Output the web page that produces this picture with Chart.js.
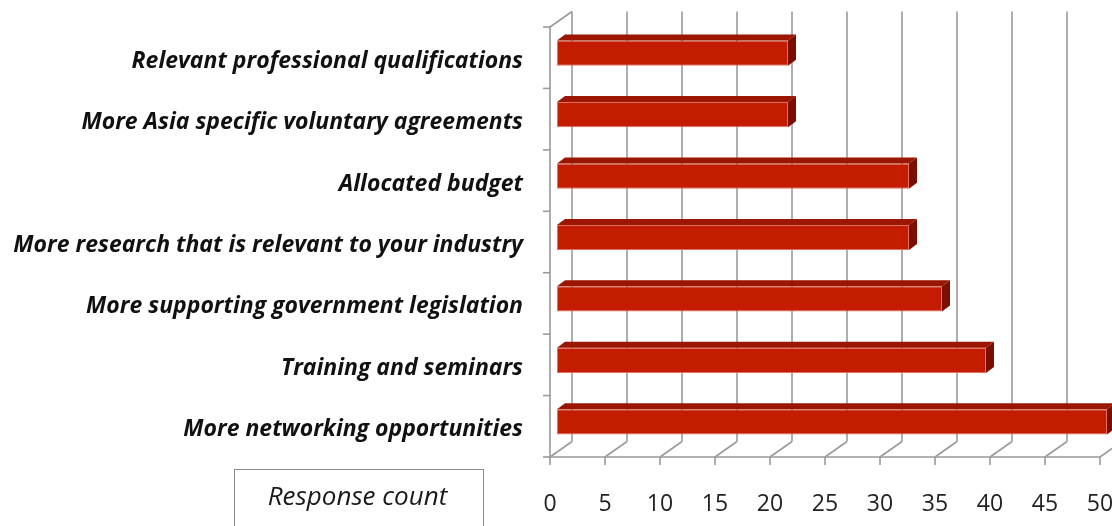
<!DOCTYPE html>
<html>
<head>
<meta charset="utf-8">
<title>Response count</title>
<script src="https://cdn.jsdelivr.net/npm/chart.js@4.4.1/dist/chart.umd.min.js"></script>
<style>
  html, body { margin: 0; padding: 0; background: #ffffff; }
  #wrap { width: 1112px; height: 526px; position: relative; }
</style>
</head>
<body>
<div id="wrap"><canvas id="chart" width="1112" height="526"></canvas></div>
<script>
// Categories, listed top to bottom
const categories = [
  'Relevant professional qualifications',
  'More Asia specific voluntary agreements',
  'Allocated budget',
  'More research that is relevant to your industry',
  'More supporting government legislation',
  'Training and seminars',
  'More networking opportunities'
];

// Number of responses per category
const responseCounts = [21, 21, 32, 32, 35, 39, 50];

// Value axis ticks
const tickValues = [0, 5, 10, 15, 20, 25, 30, 35, 40, 45, 50];

const axisTitle = 'Response count';

// 3D box geometry (pixel offsets relative to the bar front face)
const FRONT = { dx: -7, dy: 4.5 };   // floor / left wall front edge
const BACK = { dx: 15, dy: -11 };    // back wall
const BAR_DEPTH = { dx: 8, dy: -6 };  // depth of each bar

const GRID = '#9a9a9a';
const FONT = '"Open Sans", Lato, sans-serif';

const wallsPlugin = {
  id: 'walls3d',
  beforeDatasetsDraw(chart) {
    const { ctx, chartArea: a, scales } = chart;
    const xs = scales.x;
    const n = categories.length;
    const band = (a.bottom - a.top) / n;
    ctx.save();
    ctx.strokeStyle = GRID;
    ctx.lineWidth = 1.6;
    ctx.lineCap = 'butt';

    const floorY = a.bottom + FRONT.dy;
    const topFrontY = a.top + FRONT.dy;
    const backTop = a.top + BACK.dy;
    const backBottom = a.bottom + BACK.dy;

    // back wall gridlines and floor diagonals
    tickValues.forEach(v => {
      const px = xs.getPixelForValue(v);
      ctx.beginPath();
      ctx.moveTo(px + BACK.dx, backTop);
      ctx.lineTo(px + BACK.dx, backBottom);
      ctx.stroke();
      ctx.beginPath();
      ctx.moveTo(px + FRONT.dx, floorY);
      ctx.lineTo(px + BACK.dx, backBottom);
      ctx.stroke();
      // tick marks under the floor edge
      ctx.beginPath();
      ctx.moveTo(px + FRONT.dx, floorY);
      ctx.lineTo(px + FRONT.dx, floorY + 8);
      ctx.stroke();
    });

    // floor front edge
    ctx.beginPath();
    ctx.moveTo(xs.getPixelForValue(0) + FRONT.dx, floorY);
    ctx.lineTo(xs.getPixelForValue(50) + FRONT.dx, floorY);
    ctx.stroke();

    // left wall front edge and its top edge
    const lx = xs.getPixelForValue(0) + FRONT.dx;
    ctx.beginPath();
    ctx.moveTo(lx, floorY);
    ctx.lineTo(lx, topFrontY);
    ctx.lineTo(xs.getPixelForValue(0) + BACK.dx, backTop);
    ctx.stroke();

    // category tick marks on the left wall
    for (let i = 0; i <= n; i++) {
      const y = topFrontY + i * band;
      ctx.beginPath();
      ctx.moveTo(lx - 7, y);
      ctx.lineTo(lx, y);
      ctx.stroke();
    }
    ctx.restore();
  },
  afterDatasetsDraw(chart) {
    const { ctx } = chart;
    const meta = chart.getDatasetMeta(0);
    ctx.save();
    meta.data.forEach(bar => {
      const p = bar.getProps(['x', 'y', 'base', 'height'], true);
      const left = Math.min(p.base, p.x);
      const right = Math.max(p.base, p.x);
      const top = p.y - p.height / 2;
      const bottom = p.y + p.height / 2;
      // top face
      ctx.fillStyle = '#9a1600';
      ctx.beginPath();
      ctx.moveTo(left, top);
      ctx.lineTo(left + BAR_DEPTH.dx, top + BAR_DEPTH.dy);
      ctx.lineTo(right + BAR_DEPTH.dx, top + BAR_DEPTH.dy);
      ctx.lineTo(right, top);
      ctx.closePath();
      ctx.fill();
      // side face
      ctx.fillStyle = '#7a0e00';
      ctx.beginPath();
      ctx.moveTo(right, top);
      ctx.lineTo(right + BAR_DEPTH.dx, top + BAR_DEPTH.dy);
      ctx.lineTo(right + BAR_DEPTH.dx, bottom + BAR_DEPTH.dy);
      ctx.lineTo(right, bottom);
      ctx.closePath();
      ctx.fill();
    });
    ctx.restore();
  },
  afterDraw(chart) {
    const { ctx } = chart;
    ctx.save();
    ctx.strokeStyle = '#8c8c8c';
    ctx.lineWidth = 1;
    ctx.strokeRect(234.5, 469.5, 249, 80);
    ctx.fillStyle = '#1a1a1a';
    ctx.font = 'italic 26px ' + FONT;
    ctx.textAlign = 'center';
    ctx.textBaseline = 'middle';
    ctx.fillText(axisTitle, 357.5, 498);
    ctx.restore();
  }
};

new Chart(document.getElementById('chart'), {
  type: 'bar',
  data: {
    labels: categories,
    datasets: [{
      label: axisTitle,
      data: responseCounts,
      backgroundColor: '#c41c00',
      borderColor: '#e2705f',
      borderWidth: 1,
      borderSkipped: false,
      barPercentage: 0.41,
      categoryPercentage: 1
    }]
  },
  options: {
    indexAxis: 'y',
    responsive: false,
    animation: false,
    devicePixelRatio: 1,
    layout: { autoPadding: false, padding: { top: 22.5, right: 5, left: 0, bottom: 0 } },
    plugins: {
      legend: { display: false },
      tooltip: { enabled: false }
    },
    scales: {
      x: {
        min: 0,
        max: 50,
        grid: { display: false, drawTicks: false },
        border: { display: false },
        afterBuildTicks(scale) {
          scale.ticks = tickValues.map(v => ({ value: v }));
        },
        afterFit(scale) {
          scale.height = 73.5;
          scale.paddingLeft = 0;
          scale.paddingRight = 0;
        },
        ticks: {
          padding: 38,
          labelOffset: FRONT.dx,
          maxRotation: 0,
          color: '#222222',
          font: { family: FONT, size: 23 }
        }
      },
      y: {
        grid: { display: false, drawTicks: false },
        border: { display: false },
        afterFit(scale) {
          scale.width = 557;
          scale.paddingTop = 0;
          scale.paddingBottom = 0;
        },
        ticks: {
          padding: 34,
          labelOffset: 8,
          color: '#111111',
          font: { family: FONT, size: 23, style: 'italic', weight: 'bold' }
        }
      }
    }
  },
  plugins: [wallsPlugin]
});
</script>
</body>
</html>
